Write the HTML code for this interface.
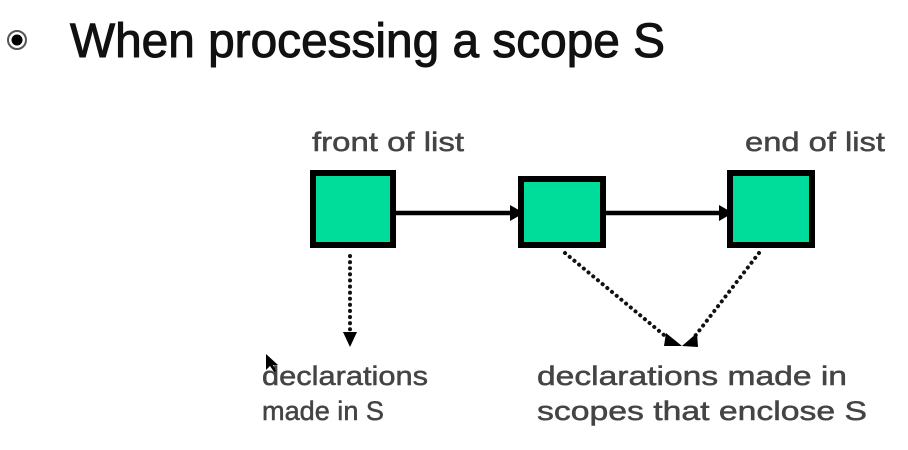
<!DOCTYPE html>
<html><head><meta charset="utf-8"><style>
html,body{margin:0;padding:0;background:#fff;}
svg{display:block;}
</style></head><body>
<svg width="908" height="450" viewBox="0 0 908 450" xmlns="http://www.w3.org/2000/svg">
<circle cx="17" cy="40" r="9" fill="none" stroke="#555" stroke-width="2"/>
<circle cx="17" cy="40" r="5.5" fill="#000"/>
<text x="70" y="57" font-family="Liberation Sans, sans-serif" font-size="48" fill="#111" stroke="#111" stroke-width="1" textLength="595" lengthAdjust="spacingAndGlyphs">When processing a scope S</text>
<g font-family="Liberation Sans, sans-serif" font-size="27" fill="#444" stroke="#444" stroke-width="0.5">
<text x="312" y="151" textLength="152" lengthAdjust="spacingAndGlyphs">front of list</text>
<text x="745" y="151" textLength="140" lengthAdjust="spacingAndGlyphs">end of list</text>
<text x="262" y="385" textLength="166" lengthAdjust="spacingAndGlyphs">declarations</text>
<text x="262" y="420" textLength="122" lengthAdjust="spacingAndGlyphs">made in S</text>
<text x="537" y="385" textLength="310" lengthAdjust="spacingAndGlyphs">declarations  made in</text>
<text x="537" y="420" textLength="330" lengthAdjust="spacingAndGlyphs">scopes that enclose  S</text>
</g>
<g fill="#00dc9a" stroke="#000" stroke-width="6">
<rect x="313" y="173" width="80" height="72"/>
<rect x="521" y="179" width="82" height="66"/>
<rect x="730" y="173" width="82" height="72"/>
</g>
<path d="M396,213 L524,213" fill="none" stroke="#000" stroke-width="4.5"/>
<path d="M510,205 L524,213 L510,221 z" fill="#000"/>
<path d="M606,213 L733,213" fill="none" stroke="#000" stroke-width="4.5"/>
<path d="M719,205 L733,213 L719,221 z" fill="#000"/>
<g stroke="#111" stroke-width="4" stroke-dasharray="0.1 6" stroke-linecap="round" fill="none">
<path d="M350,256 L350,332"/>
<path d="M565,253 L670,340"/>
<path d="M759,253 L692,340"/>
</g>
<path d="M343,332 L357,332 L350,347 z" fill="#000"/>
<path d="M666,333 L682,346 L664,346 z" fill="#000"/>
<path d="M697,333 L698,347 L682,346 z" fill="#000"/>
<path d="M266,354 L266,370 L270,366 L274,372 L276,371 L273,365 L278,365 z" fill="#000"/>
</svg>
</body></html>
